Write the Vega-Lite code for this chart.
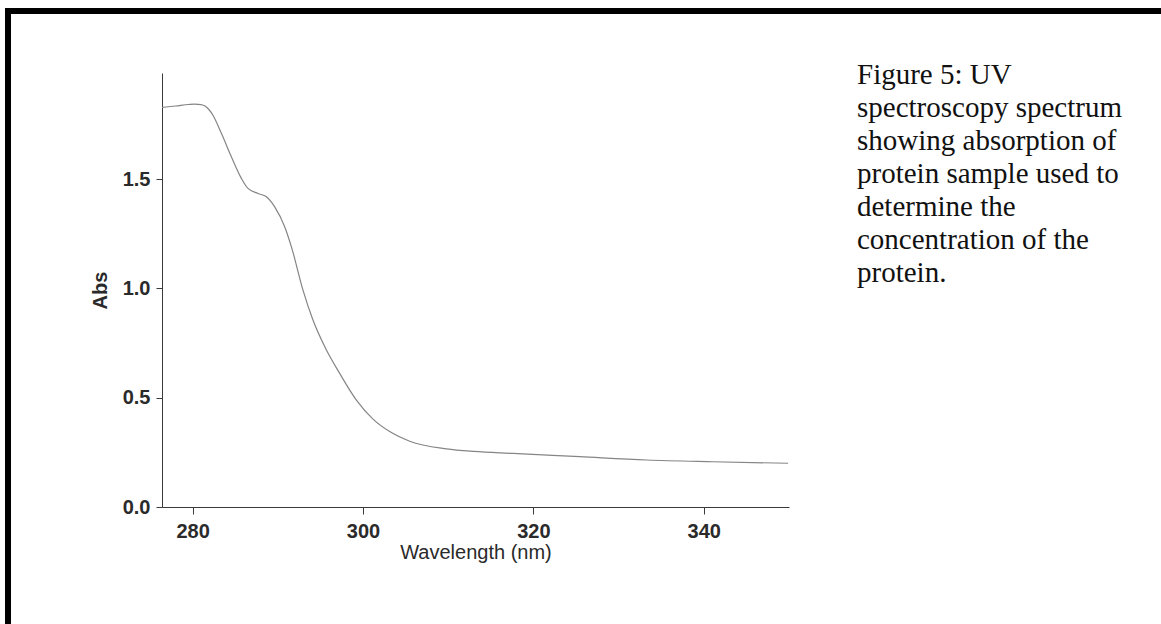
{
  "$schema": "https://vega.github.io/schema/vega-lite/v6.json",
  "width": 1170,
  "height": 623,
  "autosize": {"type": "none"},
  "padding": {"left": 8, "top": 11, "right": 0, "bottom": 0},
  "background": "white",
  "title": {
    "text": ["Figure 5: UV", "spectroscopy spectrum", "showing absorption of", "protein sample used to", "determine the", "concentration of the", "protein."],
    "orient": "top",
    "anchor": "start",
    "frame": "group",
    "align": "left",
    "baseline": "alphabetic",
    "offset": 0,
    "dx": 849,
    "dy": 300,
    "font": "Liberation Serif",
    "fontSize": 29,
    "fontWeight": "normal",
    "lineHeight": 33,
    "color": "#111111"
  },
  "config": {
    "view": {"stroke": "#000000", "strokeWidth": 6, "fill": "white"},
    "axis": {
      "grid": false,
      "domainColor": "#3a3a3a",
      "tickColor": "#3a3a3a",
      "labelColor": "#2a2a2a",
      "titleColor": "#2a2a2a",
      "labelFont": "Liberation Sans",
      "titleFont": "Liberation Sans",
      "labelFontSize": 20,
      "titleFontSize": 20,
      "labelFontWeight": "bold"
    }
  },
  "data": {
    "values": [
      {"wl": 276.4, "abs": 1.828},
      {"wl": 278.0, "abs": 1.834},
      {"wl": 279.5, "abs": 1.841},
      {"wl": 280.23, "abs": 1.843},
      {"wl": 281.0, "abs": 1.840},
      {"wl": 281.41, "abs": 1.835},
      {"wl": 281.9, "abs": 1.818},
      {"wl": 282.38, "abs": 1.792},
      {"wl": 283.37, "abs": 1.709},
      {"wl": 284.54, "abs": 1.602},
      {"wl": 285.72, "abs": 1.503},
      {"wl": 286.49, "abs": 1.457},
      {"wl": 287.67, "abs": 1.434},
      {"wl": 288.65, "abs": 1.419},
      {"wl": 289.63, "abs": 1.373},
      {"wl": 290.80, "abs": 1.282},
      {"wl": 291.59, "abs": 1.190},
      {"wl": 292.95, "abs": 0.992},
      {"wl": 294.12, "abs": 0.855},
      {"wl": 295.70, "abs": 0.718},
      {"wl": 297.26, "abs": 0.611},
      {"wl": 299.22, "abs": 0.489},
      {"wl": 301.17, "abs": 0.402},
      {"wl": 303.13, "abs": 0.345},
      {"wl": 305.48, "abs": 0.301},
      {"wl": 309.79, "abs": 0.266},
      {"wl": 313.0, "abs": 0.254},
      {"wl": 317.61, "abs": 0.245},
      {"wl": 325.44, "abs": 0.230},
      {"wl": 333.27, "abs": 0.215},
      {"wl": 341.09, "abs": 0.207},
      {"wl": 349.90, "abs": 0.200}
    ]
  },
  "mark": {"type": "line", "color": "#858585", "strokeWidth": 1.2, "interpolate": "monotone"},
  "encoding": {
    "x": {
      "field": "wl",
      "type": "quantitative",
      "scale": {"domain": [276.4, 350], "range": [154, 781], "nice": false, "zero": false},
      "axis": {
        "title": "Wavelength (nm)",
        "values": [280, 300, 320, 340],
        "format": "d",
        "offset": -127,
        "tickSize": 7,
        "labelPadding": 7,
        "titlePadding": 1,
        "titleFontWeight": "normal"
      }
    },
    "y": {
      "field": "abs",
      "type": "quantitative",
      "scale": {"domain": [0, 1.985], "range": [496, 62], "nice": false},
      "axis": {
        "title": "Abs",
        "values": [0, 0.5, 1, 1.5],
        "format": ".1f",
        "offset": -154,
        "tickSize": 6,
        "labelPadding": 6,
        "titlePadding": 12,
        "titleFontWeight": "bold"
      }
    }
  }
}
